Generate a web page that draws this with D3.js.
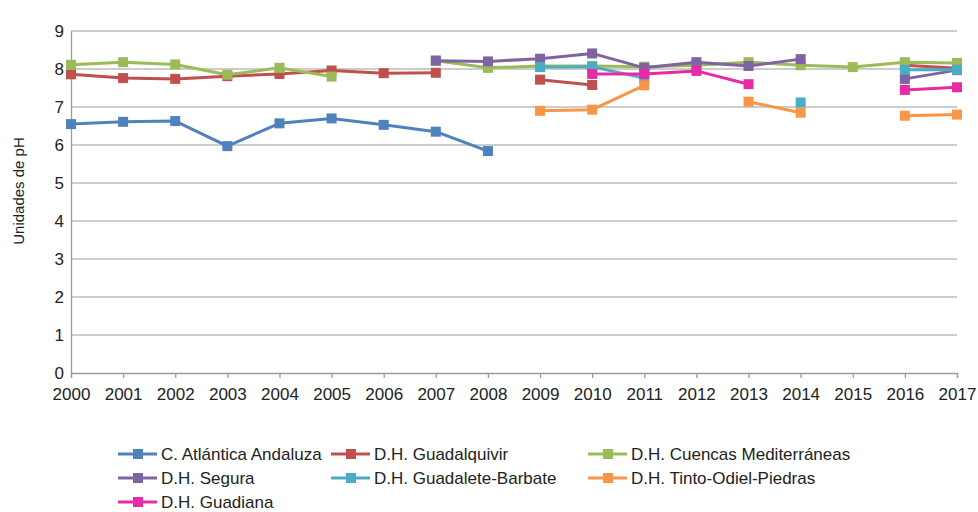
<!DOCTYPE html>
<html>
<head>
<meta charset="utf-8">
<script src="https://cdn.jsdelivr.net/npm/d3@7"></script>
<style>
    body { margin: 0; background: #fff; }
    svg text { font-family: "Liberation Sans", Arial, sans-serif; fill: #222; }
</style>
</head>
<body>
<div id="chart"></div>
<script>
// ---- data (pH values, null = no data) ----
const years = ["2000", "2001", "2002", "2003", "2004", "2005", "2006", "2007", "2008",
    "2009", "2010", "2011", "2012", "2013", "2014", "2015", "2016", "2017"];
const yTicks = [0, 1, 2, 3, 4, 5, 6, 7, 8, 9];

const atlantica = [6.55, 6.61, 6.63, 5.97, 6.57, 6.70, 6.53, 6.35, 5.84, null, null, null, null, null, null, null, null, null];
const guadalquivir = [7.86, 7.76, 7.74, 7.81, 7.87, 7.96, 7.89, 7.90, null, 7.72, 7.58, null, null, null, null, null, 8.10, 8.02];
const cuencas = [8.11, 8.18, 8.12, 7.85, 8.03, 7.80, null, 8.22, 8.03, 8.08, 8.08, 8.06, 8.10, 8.18, 8.10, 8.05, 8.18, 8.16];
const segura = [null, null, null, null, null, null, null, 8.22, 8.20, 8.27, 8.41, 8.03, 8.18, 8.08, 8.26, null, 7.74, 7.97];
const guadalete = [null, null, null, null, null, null, null, null, null, 8.05, 8.06, 7.76, null, null, 7.12, null, 7.98, 7.98];
const tinto = [null, null, null, null, null, null, null, null, null, 6.90, 6.93, 7.57, null, 7.14, 6.85, null, 6.77, 6.80];
const guadiana = [null, null, null, null, null, null, null, null, null, null, 7.87, 7.87, 7.95, 7.60, null, null, 7.45, 7.52];

const seriesNames = ["C. Atlántica Andaluza", "D.H. Guadalquivir", "D.H. Cuencas Mediterráneas",
    "D.H. Segura", "D.H. Guadalete-Barbate", "D.H. Tinto-Odiel-Piedras", "D.H. Guadiana"];
const seriesColors = ["#4f81bd", "#c0504d", "#9bbb59", "#8064a2", "#4bacc6", "#f79646", "#e62ba3"];
const seriesValues = [atlantica, guadalquivir, cuencas, segura, guadalete, tinto, guadiana];

// ---- layout ----
const width = 978, height = 512;
const margin = {top: 31, right: 21, bottom: 142, left: 71};

const svg = d3.select("#chart").append("svg")
    .attr("width", width)
    .attr("height", height);

const x = d3.scalePoint()
    .domain(years)
    .range([margin.left, width - margin.right]);

const y = d3.scaleLinear()
    .domain([0, 9])
    .range([height - margin.bottom + 3, margin.top]);

// gridlines
svg.append("g")
    .selectAll("line")
    .data(yTicks.filter(d => d > 0))
    .enter().append("line")
    .attr("x1", margin.left)
    .attr("x2", width - margin.right)
    .attr("y1", d => y(d))
    .attr("y2", d => y(d))
    .attr("stroke", "#bdbdbd")
    .attr("stroke-width", 1.3);

// y axis
const yAxis = svg.append("g")
    .attr("transform", `translate(${margin.left},0)`)
    .call(d3.axisLeft(y).tickValues(yTicks).tickSize(0).tickPadding(7));
yAxis.select(".domain").attr("stroke", "#9a9a9a").attr("stroke-width", 1.3);
yAxis.selectAll("text").style("font-size", "17px");

// x axis
const xAxis = svg.append("g")
    .attr("transform", `translate(0,${y(0)})`)
    .call(d3.axisBottom(x).tickSizeOuter(5).tickSizeInner(5).tickPadding(10));
xAxis.select(".domain").attr("stroke", "#9a9a9a").attr("stroke-width", 1.3);
xAxis.selectAll(".tick line").attr("stroke", "#9a9a9a").attr("stroke-width", 1.3);
xAxis.selectAll("text").style("font-size", "17px");

// y title
svg.append("text")
    .attr("transform", `translate(24, ${191}) rotate(-90)`)
    .attr("text-anchor", "middle")
    .style("font-size", "15px")
    .text("Unidades de pH");

// ---- series ----
const line = d3.line()
    .defined(d => d.v !== null)
    .x(d => x(d.year))
    .y(d => y(d.v));

seriesValues.forEach((vals, i) => {
    let pts = years.map((yr, j) => ({year: yr, v: vals[j]}));
    let g = svg.append("g").attr("class", "series");

    g.append("path")
        .datum(pts)
        .attr("fill", "none")
        .attr("stroke", seriesColors[i])
        .attr("stroke-width", 3)
        .attr("stroke-linejoin", "round")
        .attr("d", line);

    g.selectAll("rect")
        .data(pts.filter(d => d.v !== null))
        .enter().append("rect")
        .attr("x", d => x(d.year) - 5)
        .attr("y", d => y(d.v) - 5)
        .attr("width", 10)
        .attr("height", 10)
        .attr("fill", seriesColors[i]);
});

// ---- legend ----
const legendCols = [118, 331, 588];
const legendRows = [454, 478, 502];

const legend = svg.append("g").attr("class", "legend");
seriesNames.forEach((name, i) => {
    let lx = legendCols[i % 3], ly = legendRows[Math.floor(i / 3)];
    let item = legend.append("g").attr("transform", `translate(${lx},${ly})`);
    item.append("line")
        .attr("x1", 0).attr("x2", 39)
        .attr("y1", 0).attr("y2", 0)
        .attr("stroke", seriesColors[i])
        .attr("stroke-width", 3);
    item.append("rect")
        .attr("x", 15).attr("y", -5)
        .attr("width", 10).attr("height", 10)
        .attr("fill", seriesColors[i]);
    item.append("text")
        .attr("x", 43)
        .attr("y", 6)
        .style("font-size", "17px")
        .text(name);
});
</script>
</body>
</html>
